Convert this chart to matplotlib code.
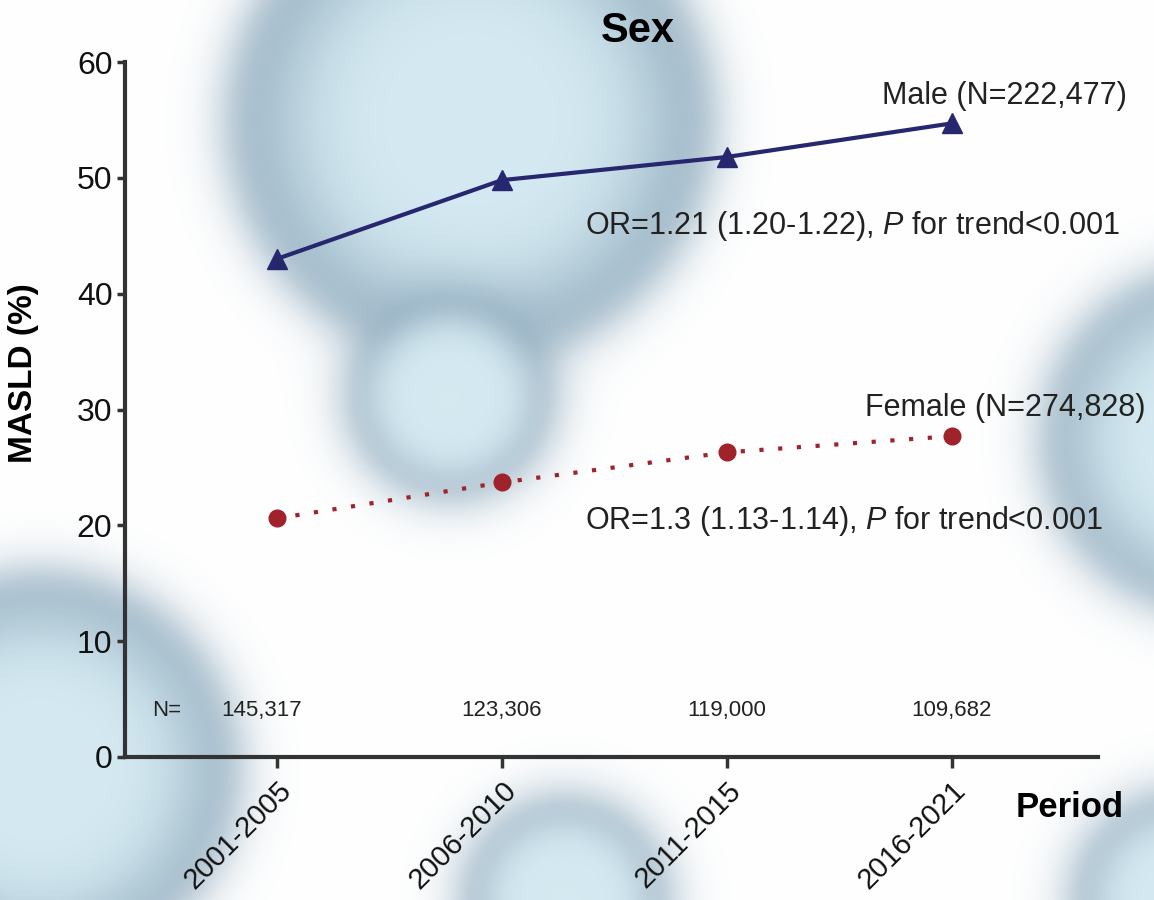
import numpy as np
import matplotlib
matplotlib.use("Agg")
import matplotlib.pyplot as plt

plt.rcParams['font.family'] = ['Liberation Sans', 'DejaVu Sans']
plt.rcParams['mathtext.fontset'] = 'custom'
plt.rcParams['mathtext.it'] = 'Liberation Sans:italic'
plt.rcParams['mathtext.rm'] = 'Liberation Sans'

periods = ["2001-2005", "2006-2010", "2011-2015", "2016-2021"]
male = [43.0, 49.8, 51.8, 54.7]
female = [20.6, 23.7, 26.3, 27.7]
n_counts = ["145,317", "123,306", "119,000", "109,682"]
yticks = [0, 10, 20, 30, 40, 50, 60]

W, H = 1154, 900
fig = plt.figure(figsize=(W / 100, H / 100), dpi=100)

# soft blurred bubble background
yy, xx = np.mgrid[0:H, 0:W]
img = np.ones((H, W, 3))
light = np.array([212, 233, 241]) / 255
dark = np.array([152, 178, 195]) / 255
blobs = [(470, 120, 245), (450, 395, 105), (1215, 440, 175), (40, 770, 200),
         (565, 900, 105), (1180, 900, 110)]
for cx, cy, r in blobs:
    d = np.hypot(xx - cx, yy - cy)
    m = 1 / (1 + np.exp(-(r - d) / 14.0))
    t = np.exp(-((np.clip(r - d, 0, None)) / (0.32 * r)) ** 2)
    col = light[None, None, :] * (1 - t[..., None]) + dark[None, None, :] * t[..., None]
    img = img * (1 - m[..., None]) + col * m[..., None]
bg = fig.add_axes([0, 0, 1, 1], zorder=-1)
bg.imshow(img, aspect='auto', interpolation='bilinear')
bg.axis('off')

ax = fig.add_axes([125 / W, 1 - 757 / H, (1098 - 125) / W, (757 - 62) / H])
ax.set_facecolor('none')
x = np.arange(len(periods))

ax.plot(x, male, color='#27276f', lw=3, marker='^', ms=15, zorder=3)
ax.plot(x, female, color='#a0222b', lw=3, ls=(0, (1, 3.5)), marker='o', ms=12, zorder=3)

ax.set_xlim(-0.675, 3.65)
ax.set_ylim(0, 60)
ax.set_yticks(yticks)
ax.set_xticks(x)
ax.set_xticklabels(periods, rotation=45, ha='right', rotation_mode='anchor', fontsize=21)
ax.tick_params(axis='y', labelsize=23, colors='#333333', width=2.5, length=6, pad=3)
ax.tick_params(axis='x', labelsize=21, width=2.5, length=8, pad=6, colors='#333333')
for lab in ax.get_xticklabels() + ax.get_yticklabels():
    lab.set_color('#111111')
for s in ['top', 'right']:
    ax.spines[s].set_visible(False)
for s in ['left', 'bottom']:
    ax.spines[s].set_linewidth(3)
    ax.spines[s].set_color('#333333')

ax.text(0.527, 1.045, "Sex", transform=ax.transAxes, fontsize=30, fontweight='bold',
        ha='center', va='center')
ax.text(-0.104, 0.5525, "MASLD (%)", transform=ax.transAxes, fontsize=24, fontweight='bold',
        rotation=90, ha='center', va='center')
ax.text(0.971, -0.073, "Period", transform=ax.transAxes, fontsize=25, fontweight='bold',
        ha='center', va='center')

ax.text(3.78, 57.1, "Male (N=222,477)", fontsize=22, ha='right', va='center', color='#222222')
ax.text(1.37, 45.8, r"OR=1.21 (1.20-1.22), $\it{P}$ for trend<0.001", fontsize=22,
        ha='left', va='center', color='#222222')
ax.text(3.86, 30.1, "Female (N=274,828)", fontsize=22, ha='right', va='center', color='#222222')
ax.text(1.37, 20.4, r"OR=1.3 (1.13-1.14), $\it{P}$ for trend<0.001", fontsize=22,
        ha='left', va='center', color='#222222')

ax.text(-0.49, 4.0, "N=", fontsize=16, ha='center', va='center', color='#222222')
for i, n in enumerate(n_counts):
    ax.text(i - (0.07 if i == 0 else 0), 4.0, n, fontsize=16, ha='center', va='center',
            color='#222222')

fig.savefig("out.png", dpi=100)
